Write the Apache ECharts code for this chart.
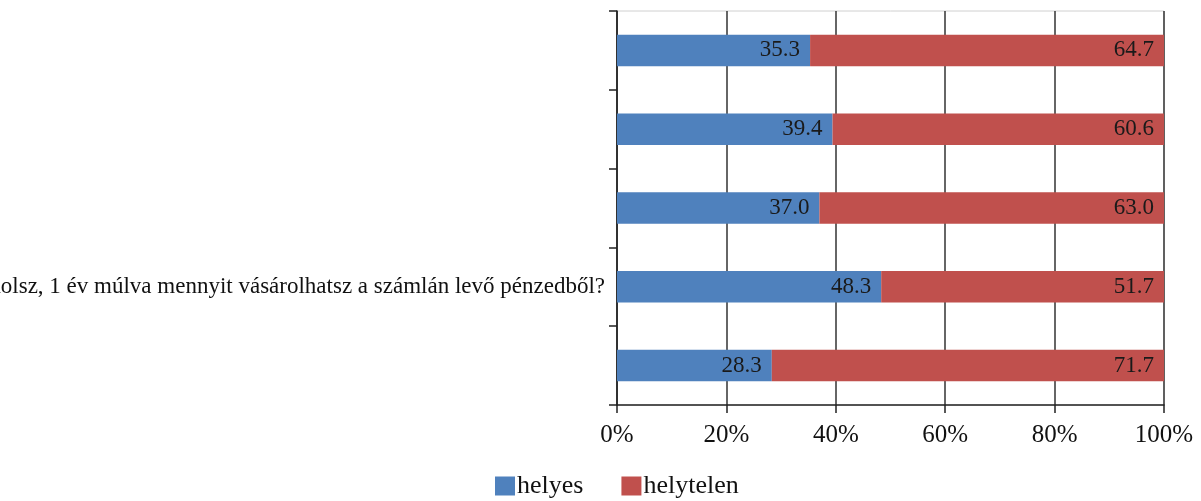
<!DOCTYPE html>
<html>
<head>
<meta charset="utf-8">
<style>
  html, body { margin: 0; padding: 0; background: #fff; }
  #chart { width: 1201px; height: 501px; }
</style>
<script src="https://cdn.jsdelivr.net/npm/echarts@6/dist/echarts.min.js"></script>
</head>
<body>
<div id="chart"></div>
<script>
// Categories, top to bottom (only one question label is shown)
const categories = ['', '', '', 'Mit gondolsz, 1 év múlva mennyit vásárolhatsz a számlán levő pénzedből?', ''];
// Share of answers per question (%), top to bottom
const helyes = [35.3, 39.4, 37.0, 48.3, 28.3];
const helytelen = [64.7, 60.6, 63.0, 51.7, 71.7];
const seriesNames = ['helyes', 'helytelen'];

const FONT = '"Liberation Serif", "DejaVu Serif", serif';
const chart = echarts.init(document.getElementById('chart'));

const labelStyle = {
  show: true,
  position: 'insideRight',
  color: '#1a1a1a',
  fontFamily: FONT,
  fontSize: 23,
  distance: 10,
  formatter: p => p.value.toFixed(1)
};

chart.setOption({
  animation: false,
  textStyle: { fontFamily: FONT },
  grid: {
    left: 617, right: 37, top: 11, bottom: 96,
    outerBoundsMode: 'none',
    containLabel: false,
    show: true, borderColor: '#d0d0d0', borderWidth: 1
  },
  legend: {
    top: 468,
    left: 490,
    itemWidth: 20, itemHeight: 19,
    itemGap: 38,
    icon: 'rect',
    textStyle: { fontFamily: FONT, fontSize: 26, color: '#111', padding: [0, 0, 0, -3] },
    data: seriesNames
  },
  xAxis: {
    type: 'value',
    min: 0, max: 100, interval: 20,
    axisLine: { show: true, lineStyle: { color: '#222', width: 1.5 } },
    axisTick: { show: true, length: 8, lineStyle: { color: '#222', width: 1.5 } },
    splitLine: { show: true, lineStyle: { color: '#333', width: 1.5 } },
    axisLabel: { formatter: '{value}%', fontFamily: FONT, fontSize: 25, color: '#111', margin: 18 }
  },
  yAxis: {
    type: 'category',
    inverse: true,
    data: categories,
    axisLine: { show: true, lineStyle: { color: '#222', width: 1.5 } },
    axisTick: { show: true, length: 8, lineStyle: { color: '#222', width: 1.5 } },
    axisLabel: { fontFamily: FONT, fontSize: 23, color: '#111', margin: 12 }
  },
  series: [
    {
      name: seriesNames[0], type: 'bar', stack: 'total',
      data: helyes, barWidth: '40%',
      itemStyle: { color: '#4F81BD' },
      label: labelStyle
    },
    {
      name: seriesNames[1], type: 'bar', stack: 'total',
      data: helytelen, barWidth: '40%',
      itemStyle: { color: '#C0504D' },
      label: labelStyle
    }
  ]
});
</script>
</body>
</html>
